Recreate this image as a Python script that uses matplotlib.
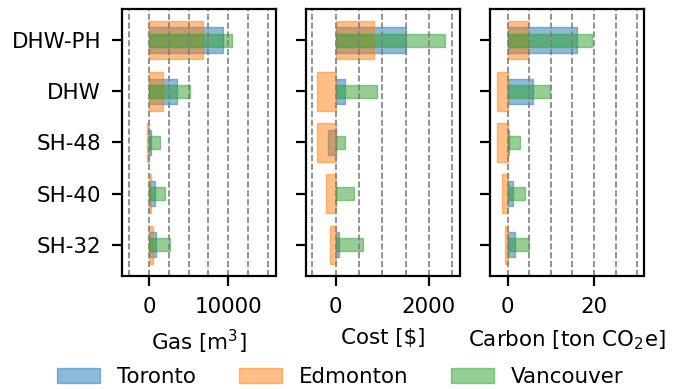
import numpy as np
import matplotlib
matplotlib.use('Agg')
import matplotlib.pyplot as plt
from matplotlib.ticker import MultipleLocator

categories = ['DHW-PH', 'DHW', 'SH-48', 'SH-40', 'SH-32']
cities = ['Toronto', 'Edmonton', 'Vancouver']

gas_toronto = [9370, 3540, 200, 680, 930]
gas_edmonton = [6880, 1770, -250, 210, 550]
gas_vancouver = [10550, 5230, 1430, 2070, 2700]

cost_toronto = [1500, 207, -157, 10, 71]
cost_edmonton = [829, -393, -393, -214, -121]
cost_vancouver = [2350, 879, 193, 386, 593]

carbon_toronto = [16.1, 5.8, 0.4, 1.2, 1.8]
carbon_edmonton = [4.7, -2.5, -2.4, -1.3, -0.7]
carbon_vancouver = [19.6, 9.9, 2.9, 3.9, 5.0]

panels = [
    ('Gas [m$^3$]', [gas_toronto, gas_edmonton, gas_vancouver], (-3450, 16050), [0, 10000], 2500),
    ('Cost [$]', [cost_toronto, cost_edmonton, cost_vancouver], (-640, 2670), [0, 2000], 500),
    ('Carbon [ton CO$_2$e]', [carbon_toronto, carbon_edmonton, carbon_vancouver], (-4.1, 31.6), [0, 20], 5),
]
colors = ['tab:blue', 'tab:orange', 'tab:green']
heights = [0.5, 0.75, 0.25]

fs = 15.4
plt.rcParams['font.family'] = 'DejaVu Sans'
plt.rcParams['font.size'] = fs
plt.rcParams['mathtext.default'] = 'regular'

fig, axes = plt.subplots(1, 3, figsize=(6.81, 3.89), dpi=100)
fig.subplots_adjust(left=0.179, right=0.9457, bottom=0.2905, top=0.977, wspace=0.195)

y = np.arange(len(categories))
for k, (ax, (label, series, lims, ticks, step)) in enumerate(zip(axes, panels)):
    for vals, c, h, name in zip(series, colors, heights, cities):
        ax.barh(y, vals, height=h, color=c, alpha=0.5, edgecolor=c, linewidth=1.0, label=name)
    ax.set_xlim(*lims)
    ax.set_xticks(ticks)
    ax.xaxis.set_minor_locator(MultipleLocator(step))
    ax.grid(axis='x', which='both', linestyle='--', color='gray', linewidth=1.2)
    ax.set_yticks(y)
    if k == 0:
        ax.set_yticklabels(categories)
    else:
        ax.set_yticklabels([])
    ax.invert_yaxis()
    ax.tick_params(which='major', length=7, width=1.6, pad=8, labelsize=fs)
    ax.tick_params(which='minor', length=0)
    for sp in ax.spines.values():
        sp.set_linewidth(1.6)
    ax.set_xlabel(label, fontsize=fs, labelpad=8)

handles, labels = axes[0].get_legend_handles_labels()
fig.legend(handles, labels, loc='lower center', bbox_to_anchor=(0.5, -0.045), ncol=3,
           frameon=False, fontsize=fs, columnspacing=2.0, handletextpad=0.8)

fig.savefig('out.png', dpi=100)
